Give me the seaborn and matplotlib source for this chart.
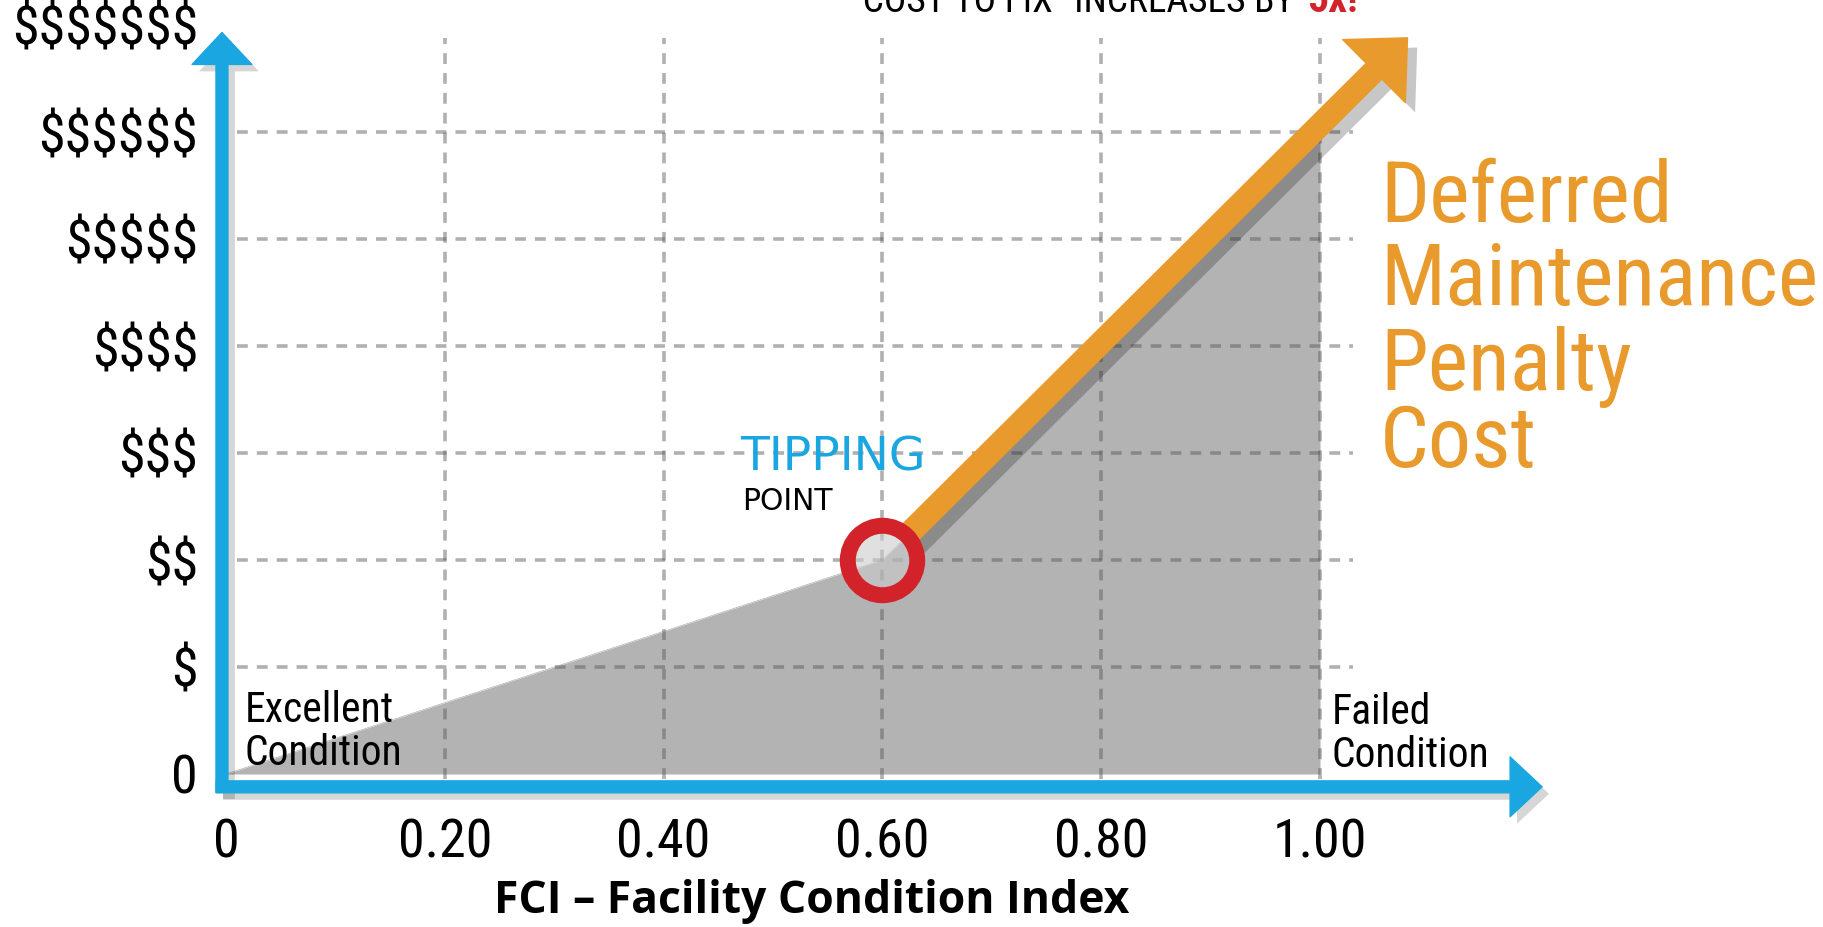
import os
import matplotlib
matplotlib.use("Agg")
import matplotlib.pyplot as plt
import matplotlib.patheffects as pe
import seaborn as sns
from matplotlib import font_manager
from matplotlib.font_manager import FontProperties
from matplotlib.patches import FancyArrowPatch, ArrowStyle

# ------------------------------
# Data
# ------------------------------
fci = [0.0, 0.60, 1.0]          # facility condition index
cost = [0.0, 2.0, 5.93]         # relative cost level (0 .. $$$$$$$)
tipping = (0.60, 2.0)
penalty_tip = (1.08, 6.88)

x_ticks = [0.0, 0.2, 0.4, 0.6, 0.8, 1.0]
x_labels = ["0", "0.20", "0.40", "0.60", "0.80", "1.00"]
y_ticks = [0, 1, 2, 3, 4, 5, 6, 7]
y_labels = ["0", "$", "$$", "$$$", "$$$$", "$$$$$", "$$$$$$", "$$$$$$$"]
grid_x = [0.2, 0.4, 0.6, 0.8, 1.0]
grid_y = [1, 2, 3, 4, 5, 6]

BLUE = "#1aa6e0"
ORANGE = "#e99a2c"
RED = "#d3232a"
FILL = "#b3b3b3"

sns.set_theme(style="white")
plt.rcParams["text.parse_math"] = False
plt.rcParams["font.family"] = ["Liberation Sans", "DejaVu Sans"]

# ------------------------------
# Look for a narrow font (the original uses condensed faces)
# ------------------------------
PATTERNS = ["LiberationSansNarrow", "RobotoCondensed", "Roboto_Condensed",
            "NotoSans-Condensed", "NotoSansCondensed", "OpenSans-Condensed",
            "OpenSans_Condensed", "OpenSansCondensed", "DejaVuSansCondensed"]
SKIP = ["Italic", "Oblique", "Light", "Thin", "Black", "Medium", "SemiBold",
        "ExtraBold", "ExtraLight", "SemiCondensed", "ExtraCondensed"]


def find_narrow(bold=False):
    files = [f.fname for f in font_manager.fontManager.ttflist]
    for pat in PATTERNS:
        for fn in files:
            base = os.path.basename(fn)
            if pat not in base:
                continue
            rest = base.replace(pat, "")
            if any(s in rest for s in SKIP):
                continue
            if ("Bold" in rest) == bold:
                return fn
    return None


narrow_reg = find_narrow(False)
narrow_bold = find_narrow(True)
SCALE = 1.0 if narrow_reg else 0.84


def fp(size, bold=False):
    path = narrow_bold if bold else narrow_reg
    if path:
        return FontProperties(fname=path, size=size)
    return FontProperties(family=["Liberation Sans", "DejaVu Sans"], size=size * SCALE,
                          weight="bold" if bold else "normal")


W, H = 1824, 927
fig = plt.figure(figsize=(W / 100, H / 100), dpi=100)
fig.patch.set_facecolor("white")

# axes so that x=0 -> 226px, x=1 -> 1320px, y=0 -> 774px, 1 unit y = 107px
ax = fig.add_axes([226 / W, (H - 774) / H, 1.2 * 1094 / W, 7 * 107 / H])
ax.set_xlim(0, 1.2)
ax.set_ylim(0, 7)
ax.set_facecolor("none")
for s in ax.spines.values():
    s.set_visible(False)

# grey area under the cost curve
sns.lineplot(x=fci, y=cost, ax=ax, color=FILL, linewidth=0.5, zorder=1)
ax.fill_between(fci, cost, 0, color=FILL, linewidth=0, zorder=1)

# dashed grid
grid_kw = dict(color="#5a5a5a", alpha=0.48, linewidth=2.6, dashes=(3.0, 2.5), zorder=2, clip_on=False)
for gx in grid_x:
    ax.plot([gx, gx], [-0.05, 6.88], **grid_kw)
for gy in grid_y:
    ax.plot([0.01, 1.03], [gy, gy], **grid_kw)

shadow = [pe.withSimplePatchShadow(offset=(5, -5), shadow_rgbFace="black", alpha=0.16)]
pen_shadow = [pe.withSimplePatchShadow(offset=(7, -7), shadow_rgbFace="black", alpha=0.22)]

# blue axis arrows
axis_style = ArrowStyle.Simple(head_length=2.3, head_width=4.3, tail_width=0.86)
for a, b in [((-0.0037, -0.17), (-0.0037, 6.93)), ((-0.009, -0.12), (1.203, -0.12))]:
    arr = FancyArrowPatch(a, b, arrowstyle=axis_style, mutation_scale=10, color=BLUE,
                          shrinkA=0, shrinkB=0, zorder=3, clip_on=False)
    arr.set_path_effects(shadow)
    ax.add_patch(arr)

# orange penalty arrow, starting at the ring
pen = FancyArrowPatch(tipping, penalty_tip,
                      arrowstyle=ArrowStyle.Simple(head_length=3.4, head_width=6.4, tail_width=1.6),
                      mutation_scale=10, color=ORANGE, shrinkA=24, shrinkB=0, zorder=4, clip_on=False)
pen.set_path_effects(pen_shadow)
ax.add_patch(pen)

# tipping point ring
ax.plot([tipping[0]], [tipping[1]], marker="o", markersize=50, markeredgewidth=11.5,
        markeredgecolor=RED, markerfacecolor=(0.80, 0.80, 0.80, 0.6), zorder=5, clip_on=False)

# ticks
ax.set_xticks(x_ticks, x_labels)
ax.set_yticks(y_ticks, y_labels)
ax.tick_params(axis="x", length=0, pad=31, labelcolor="black")
ax.tick_params(axis="y", length=0, pad=20, labelcolor="black")
for lab in ax.get_xticklabels() + ax.get_yticklabels():
    lab.set_fontproperties(fp(39))
ax.grid(False)


def ftext(px, py, s, prop, **kw):
    return fig.text(px / W, 1 - py / H, s, va="baseline", fontproperties=prop, **kw)


ftext(812, 913, "FCI – Facility Condition Index",
      FontProperties(family=["Open Sans", "DejaVu Sans"], weight="bold", size=32),
      ha="center", color="black")

# annotations
ftext(740, 470, "TIPPING", FontProperties(family="DejaVu Sans", size=34), color=BLUE)
ftext(742, 510, "POINT", FontProperties(family="DejaVu Sans", size=21.5), color="black")

ftext(245, 722, "Excellent", fp(30), color="black")
ftext(245, 765, "Condition", fp(30), color="black")
ftext(1332, 724, "Failed", fp(30), color="black")
ftext(1332, 767, "Condition", fp(30), color="black")

for word, base in zip(["Deferred", "Maintenance", "Penalty", "Cost"], [222, 305, 390, 467]):
    ftext(1380, base, word, fp(62), color=ORANGE)

# title cut off at the top edge
ftext(1303, 12, "“COST TO FIX” INCREASES BY ", fp(27), ha="right", color="black")
ftext(1307, 12, "5x!", fp(30, bold=True), ha="left", color=RED)

fig.savefig("out.png", dpi=100, facecolor="white")
